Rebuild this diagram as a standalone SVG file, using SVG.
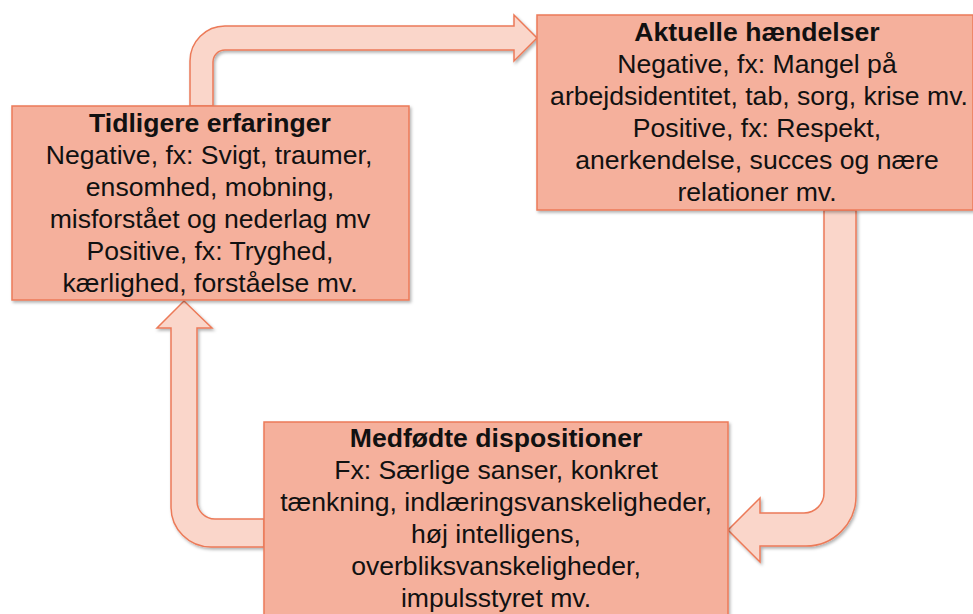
<svg xmlns="http://www.w3.org/2000/svg" width="973" height="614" viewBox="0 0 973 614">
<defs>
<filter id="sh" x="-10%" y="-10%" width="120%" height="130%">
<feDropShadow dx="1.5" dy="2" stdDeviation="1.8" flood-color="#000" flood-opacity="0.3"/>
</filter>
</defs>
<style>
.box{fill:#F5B09C;stroke:#EC7A58;stroke-width:1.5;filter:url(#sh)}
.arr{fill:#FAD6CA;stroke:#EC7A58;stroke-width:1.5;stroke-linejoin:miter;filter:url(#sh)}
text{font-family:"Liberation Sans",Arial,sans-serif;font-size:26.6px;fill:#111;text-anchor:middle}
.t{font-weight:bold}
</style>
<rect width="973" height="614" fill="#fff"/>
<g id="connectors">
<path class="arr" d="M190,106 L190,61 A35,35 0 0 1 225,26 L514,26 L514,15 L537,38 L514,61 L514,50 L225,50 A12,12 0 0 0 213,62 L213,106 Z"/>
<path class="arr" d="M824,210 L856,210 L856,496 A50,50 0 0 1 806,546 L760,546 L760,562 L728,530 L760,498 L760,513 L804,513 A20,20 0 0 0 824,493 Z"/>
<path class="arr" d="M264,547 L211,547 A40,40 0 0 1 171,507 L171,328 L157,328 L184,301 L212,328 L197,328 L197,501 A18,18 0 0 0 215,519 L264,519 Z"/>
</g>
<g id="tidligere">
<rect class="box" x="12" y="106" width="397" height="194"/>
<text x="210" y="132" class="t">Tidligere erfaringer</text>
<text x="209" y="164">Negative, fx: Svigt, traumer,</text>
<text x="210" y="196">ensomhed, mobning,</text>
<text x="210" y="228">misforstået og nederlag mv</text>
<text x="210" y="260">Positive, fx: Tryghed,</text>
<text x="210" y="292">kærlighed, forståelse mv.</text>
</g>
<g id="aktuelle">
<rect class="box" x="537" y="15" width="436" height="195"/>
<text x="757" y="41" class="t">Aktuelle hændelser</text>
<text x="757" y="73">Negative, fx: Mangel på</text>
<text x="759" y="105">arbejdsidentitet, tab, sorg, krise mv.</text>
<text x="757" y="137">Positive, fx: Respekt,</text>
<text x="757" y="169">anerkendelse, succes og nære</text>
<text x="757" y="201">relationer mv.</text>
</g>
<g id="medfodte">
<rect class="box" x="264" y="422" width="464" height="210"/>
<text x="496" y="447" class="t">Medfødte dispositioner</text>
<text x="496" y="479">Fx: Særlige sanser, konkret</text>
<text x="496" y="511">tænkning, indlæringsvanskeligheder,</text>
<text x="496" y="543">høj intelligens,</text>
<text x="496" y="575">overbliksvanskeligheder,</text>
<text x="496" y="607">impulsstyret mv.</text>
</g>
</svg>
